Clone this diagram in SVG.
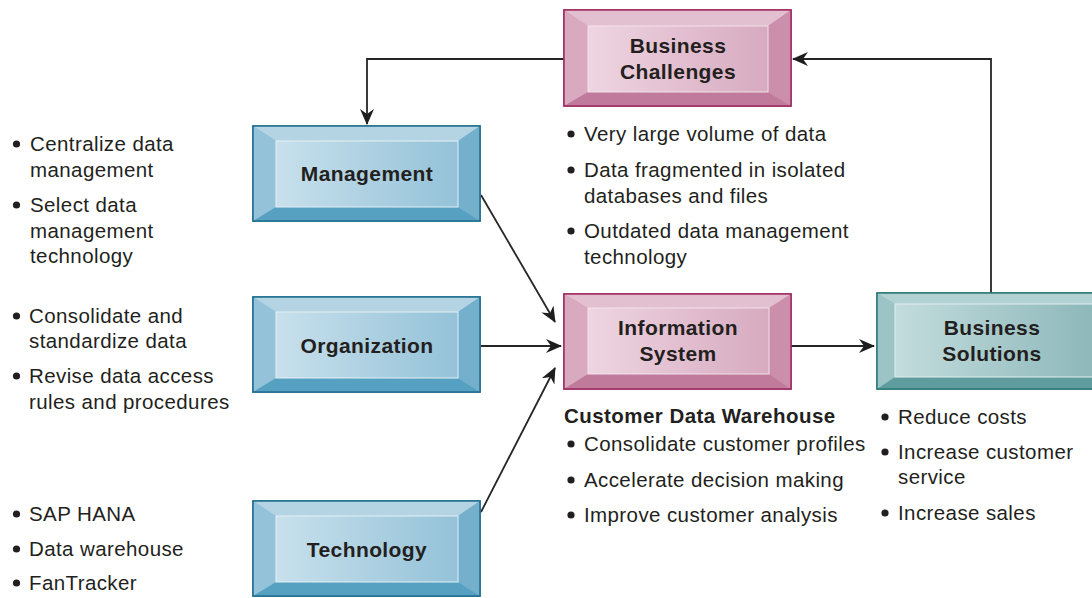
<svg xmlns="http://www.w3.org/2000/svg" width="1092" height="598" viewBox="0 0 1092 598">
<style>
text{font-family:"Liberation Sans",Arial,sans-serif;fill:#231f20}
.b{font-size:20.5px;letter-spacing:0.4px}
.h{font-size:20.5px;font-weight:bold;letter-spacing:0.45px}
.lbl{font-size:21px;font-weight:bold;letter-spacing:0.4px;text-anchor:middle}
.dot{fill:#231f20}
.conn{fill:none;stroke:#262626;stroke-width:1.8}
.pk .o{fill:#d4a2b8;stroke:#9e2b62;stroke-width:1.5}
.pk .t{fill:#e3c0d0}.pk .l{fill:#d8a9bf}.pk .r{fill:#cb8eab}.pk .bt{fill:#c07a9b}
.pk .f{fill:url(#gp);stroke:#f3e2ea;stroke-width:1}
.bl .o{fill:#8ebfd7;stroke:#1f6d90;stroke-width:1.5}
.bl .t{fill:#b4d4e3}.bl .l{fill:#93c2d9}.bl .r{fill:#74afcc}.bl .bt{fill:#56a0c1}
.bl .f{fill:url(#gb);stroke:#e4f0f6;stroke-width:1}
.tl .o{fill:#9cc4c6;stroke:#2c7a7a;stroke-width:1.5}
.tl .t{fill:#b2d1d3}.tl .l{fill:#9cc4c6}.tl .r{fill:#7eafb1}.tl .bt{fill:#5e9c9e}
.tl .f{fill:url(#gt);stroke:#e2eeef;stroke-width:1}
</style>
<defs>
<linearGradient id="gp" x1="0" y1="0" x2="1" y2="0"><stop offset="0" stop-color="#eed5e1"/><stop offset="1" stop-color="#d7aac0"/></linearGradient>
<linearGradient id="gb" x1="0" y1="0" x2="1" y2="0"><stop offset="0" stop-color="#c8e0ec"/><stop offset="1" stop-color="#94c2d8"/></linearGradient>
<linearGradient id="gt" x1="0" y1="0" x2="1" y2="0"><stop offset="0" stop-color="#c3dcdd"/><stop offset="1" stop-color="#8cb7b9"/></linearGradient>
<marker id="ah" viewBox="0 0 16 14" refX="15" refY="7" markerWidth="16" markerHeight="14" markerUnits="userSpaceOnUse" orient="auto">
<path d="M0,0 L16,7 L0,14 L5,7 Z" fill="#1e1e1e"/>
</marker>
</defs>

<g id="connectors">
<path class="conn" d="M564,59 H367 V124" marker-end="url(#ah)"/>
<path class="conn" d="M991,293 V59 H793" marker-end="url(#ah)"/>
<path class="conn" d="M481,195 L555,322" marker-end="url(#ah)"/>
<path class="conn" d="M481,346 L561,346" marker-end="url(#ah)"/>
<path class="conn" d="M481,512 L555,368" marker-end="url(#ah)"/>
<path class="conn" d="M791,346 L874,346" marker-end="url(#ah)"/>
</g>

<g id="business-challenges" class="pk" transform="translate(564,10)">
<rect class="o" x="0" y="0" width="227" height="96"/>
<polygon class="t" points="0,0 227,0 204,16 24,16"/>
<polygon class="l" points="0,0 24,16 24,82 0,96"/>
<polygon class="r" points="227,0 227,96 204,82 204,16"/>
<polygon class="bt" points="0,96 24,82 204,82 227,96"/>
<rect class="f" x="24" y="16" width="180" height="66"/>
<rect x="0" y="0" width="227" height="96" fill="none" stroke="#9e2b62" stroke-width="1.5"/>
<text class="lbl" x="114" y="43">Business</text>
<text class="lbl" x="114" y="69">Challenges</text>
</g>

<g id="management" class="bl" transform="translate(253,126)">
<rect class="o" x="0" y="0" width="227" height="95"/>
<polygon class="t" points="0,0 227,0 205,15 23,15"/>
<polygon class="l" points="0,0 23,15 23,81 0,95"/>
<polygon class="r" points="227,0 227,95 205,81 205,15"/>
<polygon class="bt" points="0,95 23,81 205,81 227,95"/>
<rect class="f" x="23" y="15" width="182" height="66"/>
<rect x="0" y="0" width="227" height="95" fill="none" stroke="#1f6d90" stroke-width="1.5"/>
<text class="lbl" x="114" y="55">Management</text>
</g>

<g id="organization" class="bl" transform="translate(253,297)">
<rect class="o" x="0" y="0" width="227" height="95"/>
<polygon class="t" points="0,0 227,0 205,15 23,15"/>
<polygon class="l" points="0,0 23,15 23,81 0,95"/>
<polygon class="r" points="227,0 227,95 205,81 205,15"/>
<polygon class="bt" points="0,95 23,81 205,81 227,95"/>
<rect class="f" x="23" y="15" width="182" height="66"/>
<rect x="0" y="0" width="227" height="95" fill="none" stroke="#1f6d90" stroke-width="1.5"/>
<text class="lbl" x="114" y="56">Organization</text>
</g>

<g id="technology" class="bl" transform="translate(253,501)">
<rect class="o" x="0" y="0" width="227" height="95"/>
<polygon class="t" points="0,0 227,0 205,15 23,15"/>
<polygon class="l" points="0,0 23,15 23,81 0,95"/>
<polygon class="r" points="227,0 227,95 205,81 205,15"/>
<polygon class="bt" points="0,95 23,81 205,81 227,95"/>
<rect class="f" x="23" y="15" width="182" height="66"/>
<rect x="0" y="0" width="227" height="95" fill="none" stroke="#1f6d90" stroke-width="1.5"/>
<text class="lbl" x="114" y="56">Technology</text>
</g>

<g id="information-system" class="pk" transform="translate(564,294)">
<rect class="o" x="0" y="0" width="227" height="95"/>
<polygon class="t" points="0,0 227,0 205,14 24,14"/>
<polygon class="l" points="0,0 24,14 24,80 0,95"/>
<polygon class="r" points="227,0 227,95 205,80 205,14"/>
<polygon class="bt" points="0,95 24,80 205,80 227,95"/>
<rect class="f" x="24" y="14" width="181" height="66"/>
<rect x="0" y="0" width="227" height="95" fill="none" stroke="#9e2b62" stroke-width="1.5"/>
<text class="lbl" x="114" y="41">Information</text>
<text class="lbl" x="114" y="67">System</text>
</g>

<g id="business-solutions" class="tl" transform="translate(877,293)">
<rect class="o" x="0" y="0" width="240" height="96"/>
<polygon class="t" points="0,0 240,0 222,11 18,11"/>
<polygon class="l" points="0,0 18,11 18,84 0,96"/>
<polygon class="r" points="240,0 240,96 222,84 222,11"/>
<polygon class="bt" points="0,96 18,84 222,84 240,96"/>
<rect class="f" x="18" y="11" width="204" height="73"/>
<rect x="0" y="0" width="240" height="96" fill="none" stroke="#2c7a7a" stroke-width="1.5"/>
<text class="lbl" x="115" y="42">Business</text>
<text class="lbl" x="115" y="68">Solutions</text>
</g>

<g id="management-notes">
<circle class="dot" cx="16.5" cy="144" r="3.6"/>
<text class="b" x="30" y="151">Centralize data</text>
<text class="b" x="30" y="177">management</text>
<circle class="dot" cx="16.5" cy="205" r="3.6"/>
<text class="b" x="30" y="212">Select data</text>
<text class="b" x="30" y="238">management</text>
<text class="b" x="30" y="263">technology</text>
</g>

<g id="organization-notes">
<circle class="dot" cx="16.5" cy="316" r="3.6"/>
<text class="b" x="29" y="323">Consolidate and</text>
<text class="b" x="29" y="348">standardize data</text>
<circle class="dot" cx="16.5" cy="376" r="3.6"/>
<text class="b" x="29" y="383">Revise data access</text>
<text class="b" x="29" y="409">rules and procedures</text>
</g>

<g id="technology-notes">
<circle class="dot" cx="16.5" cy="514" r="3.6"/>
<text class="b" x="29" y="521">SAP HANA</text>
<circle class="dot" cx="16.5" cy="549" r="3.6"/>
<text class="b" x="29" y="556">Data warehouse</text>
<circle class="dot" cx="16.5" cy="583" r="3.6"/>
<text class="b" x="29" y="590">FanTracker</text>
</g>

<g id="challenges-notes">
<circle class="dot" cx="571" cy="134" r="3.6"/>
<text class="b" x="584" y="141">Very large volume of data</text>
<circle class="dot" cx="571" cy="170" r="3.6"/>
<text class="b" x="584" y="177">Data fragmented in isolated</text>
<text class="b" x="584" y="203">databases and files</text>
<circle class="dot" cx="571" cy="231" r="3.6"/>
<text class="b" x="584" y="238">Outdated data management</text>
<text class="b" x="584" y="264">technology</text>
</g>

<g id="system-notes">
<text class="h" x="564" y="423">Customer Data Warehouse</text>
<circle class="dot" cx="571" cy="444" r="3.6"/>
<text class="b" x="584" y="451">Consolidate customer profiles</text>
<circle class="dot" cx="571" cy="480" r="3.6"/>
<text class="b" x="584" y="487">Accelerate decision making</text>
<circle class="dot" cx="571" cy="515" r="3.6"/>
<text class="b" x="584" y="522">Improve customer analysis</text>
</g>

<g id="solutions-notes">
<circle class="dot" cx="885" cy="417" r="3.6"/>
<text class="b" x="898" y="424">Reduce costs</text>
<circle class="dot" cx="885" cy="452" r="3.6"/>
<text class="b" x="898" y="459">Increase customer</text>
<text class="b" x="898" y="484">service</text>
<circle class="dot" cx="885" cy="513" r="3.6"/>
<text class="b" x="898" y="520">Increase sales</text>
</g>
</svg>
